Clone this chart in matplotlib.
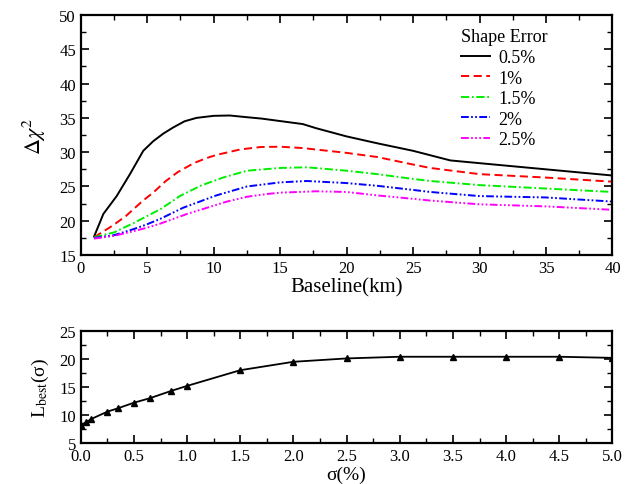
import numpy as np
import matplotlib
matplotlib.use('Agg')
import matplotlib.pyplot as plt
from matplotlib.ticker import MultipleLocator, FormatStrFormatter

plt.rcParams['font.family'] = ['Liberation Serif', 'DejaVu Serif']
plt.rcParams['mathtext.fontset'] = 'stix'

# top panel: delta chi^2 vs baseline (km), one curve per shape error
base_05 = [1, 1.7, 2.7, 3.7, 4.7, 5.45, 6.2, 6.95, 7.8, 8.7, 10, 11.2, 12.5, 13.6, 16.7, 17.7, 20, 22.3, 25, 27.8, 30, 35, 40]
chi2_05 = [17.7, 21.0, 23.6, 26.8, 30.2, 31.6, 32.7, 33.6, 34.5, 35.0, 35.3, 35.35, 35.1, 34.9, 34.1, 33.5, 32.3, 31.3, 30.2, 28.8, 28.4, 27.5, 26.6]

base_10 = [1, 2.4, 3.4, 4.6, 5.5, 6.4, 7.3, 8.5, 9.4, 10.2, 12, 13.5, 15, 16.7, 20, 22.3, 25, 26.3, 30, 35, 40]
chi2_10 = [17.6, 19.3, 20.7, 22.8, 24.2, 25.8, 27.1, 28.4, 29.1, 29.6, 30.4, 30.75, 30.8, 30.6, 29.9, 29.3, 28.2, 27.7, 26.8, 26.3, 25.7]

base_15 = [1, 2.5, 4, 5, 6, 7.45, 9, 10.7, 12.5, 15, 17, 20, 22.3, 25, 26.3, 30, 35, 40]
chi2_15 = [17.6, 18.3, 19.7, 20.7, 21.7, 23.6, 25.1, 26.3, 27.3, 27.7, 27.8, 27.3, 26.8, 26.1, 25.8, 25.2, 24.7, 24.2]

base_20 = [1, 2.5, 4, 5, 6, 7.7, 10.2, 12.5, 15, 17, 20, 22.3, 25, 26.3, 30, 35, 40]
chi2_20 = [17.5, 17.9, 18.8, 19.5, 20.3, 21.9, 23.7, 25.0, 25.6, 25.8, 25.5, 25.1, 24.5, 24.2, 23.6, 23.4, 22.8]

base_25 = [1, 2.5, 4, 5, 6, 7, 8, 9.5, 11, 12.5, 14, 15, 17.7, 20, 22.3, 25, 26.3, 30, 35, 40]
chi2_25 = [17.4, 17.8, 18.5, 19.0, 19.6, 20.3, 21.0, 21.9, 22.8, 23.5, 23.9, 24.1, 24.3, 24.2, 23.7, 23.2, 22.95, 22.4, 22.1, 21.6]

# bottom panel: L_best vs sigma (%)
sigma = [0, 0.05, 0.1, 0.25, 0.35, 0.5, 0.65, 0.85, 1.0, 1.5, 2.0, 2.5, 3.0, 3.5, 4.0, 4.5, 5.0]
l_best = [8.2, 8.7, 9.3, 10.6, 11.2, 12.2, 13.0, 14.3, 15.2, 18.0, 19.5, 20.1, 20.4, 20.4, 20.4, 20.4, 20.2]

fig = plt.figure(figsize=(6.36, 4.85), dpi=100)
ax1 = fig.add_axes([0.127, 0.472, 0.836, 0.495])
ax2 = fig.add_axes([0.127, 0.0845, 0.836, 0.231])

lw = 1.4
ax1.plot(base_05, chi2_05, color='black', lw=lw, label='0.5%')
ax1.plot(base_10, chi2_10, color='red', lw=lw, ls=(0, (4.2, 2.3)), label='1%')
ax1.plot(base_15, chi2_15, color='#00ee00', lw=lw, ls=(0, (4.2, 1.4, 0.9, 1.4)), label='1.5%')
ax1.plot(base_20, chi2_20, color='blue', lw=lw, ls=(0, (4.0, 1.2, 0.9, 1.2, 0.9, 1.2)), label='2%')
ax1.plot(base_25, chi2_25, color='magenta', lw=lw, ls=(0, (4.0, 1.2, 0.9, 1.2, 0.9, 1.2, 0.9, 1.2)), label='2.5%')

ax1.set_xlim(0, 40)
ax1.set_ylim(15, 50)
ax1.xaxis.set_major_locator(MultipleLocator(5))
ax1.xaxis.set_minor_locator(MultipleLocator(2.5))
ax1.yaxis.set_major_locator(MultipleLocator(5))
ax1.yaxis.set_minor_locator(MultipleLocator(2.5))
ax1.set_xlabel('Baseline(km)', fontsize=15, labelpad=1)
ax1.set_ylabel(r'$\Delta\chi^2$', fontsize=16, labelpad=8)
leg = ax1.legend(title='Shape Error', loc='upper left', frameon=False, fontsize=13,
                 title_fontsize=13, handlelength=1.65, handletextpad=0.45,
                 labelspacing=0.2, bbox_to_anchor=(0.684, 1.012))
leg._legend_box.align = 'left'

ax2.plot(sigma, l_best, color='black', lw=1.3, marker='^', ms=5)
ax2.set_xlim(0, 5)
ax2.set_ylim(5, 25)
ax2.xaxis.set_major_locator(MultipleLocator(0.5))
ax2.xaxis.set_minor_locator(MultipleLocator(0.25))
ax2.yaxis.set_major_locator(MultipleLocator(5))
ax2.yaxis.set_minor_locator(MultipleLocator(2.5))
ax2.xaxis.set_major_formatter(FormatStrFormatter('%.1f'))
ax2.set_xlabel('σ(%)', fontsize=14, labelpad=1)
ax2.set_ylabel(r'L$_{\rm best}$(σ)', fontsize=14, labelpad=6)

for ax in (ax1, ax2):
    for s in ax.spines.values():
        s.set_linewidth(1.6)
    ax.tick_params(which='both', direction='in', top=True, right=True, labelsize=12)
    ax.tick_params(which='major', length=6, width=1.2)
    ax.tick_params(which='minor', length=3.5, width=1.0)

fig.savefig('out.png', dpi=100)
